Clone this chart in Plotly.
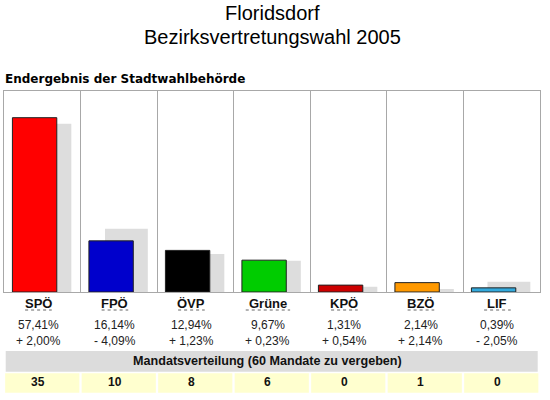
import plotly.graph_objects as go

# Bezirksvertretungswahl 2005, Floridsdorf
parties = ["SPÖ", "FPÖ", "ÖVP", "Grüne", "KPÖ", "BZÖ", "LIF"]
result_2005 = [57.41, 16.14, 12.94, 9.67, 1.31, 2.14, 0.39]
change = [2.00, -4.09, 1.23, 0.23, 0.54, 2.14, -2.05]
result_prev = [55.41, 20.23, 11.71, 9.44, 0.77, 0.0, 2.44]
seats = [35, 10, 8, 6, 0, 1, 0]
party_colors = ["#ff0000", "#0000cc", "#000000", "#00cc00", "#cc0000", "#ff9900", "#33aadd"]

BASE = -1.0  # bars start a little below zero, like in the original
FONT = "Liberation Sans, Arial, sans-serif"


def fmt_pct(v):
    return f"{v:.2f}".replace(".", ",") + "%"


def fmt_change(v):
    sign = "+" if v >= 0 else "-"
    return f"{sign} {abs(v):.2f}".replace(".", ",") + "%"


def py(px):
    # pixel row from the top -> paper coordinate
    return 1 - px / 400


fig = go.Figure()

# previous election (grey shadow bars)
fig.add_trace(go.Bar(
    x=parties,
    y=[v - BASE for v in result_prev],
    base=BASE,
    offset=-0.18,
    width=0.56,
    marker=dict(color="#dddddd", line=dict(width=0)),
    hoverinfo="skip",
))

# current result
fig.add_trace(go.Bar(
    x=parties,
    y=[v - BASE for v in result_2005],
    base=BASE,
    offset=-0.39,
    width=0.58,
    marker=dict(color=party_colors, line=dict(color="#222222", width=1)),
    hoverinfo="skip",
))

annotations = []
shapes = []


def label(text, x, y, xref="x", size=12, color="#222222", xanchor="center", family=FONT):
    annotations.append(dict(text=text, x=x, y=y, xref=xref, yref="paper", showarrow=False,
                            xanchor=xanchor, yanchor="middle",
                            font=dict(family=family, size=size, color=color)))


# titles
label("Floridsdorf", 0.495, py(13), xref="paper", size=20, color="#000000")
label("Bezirksvertretungswahl 2005", 0.495, py(37), xref="paper", size=20, color="#000000")
label("<b>Endergebnis der Stadtwahlbehörde</b>", 0.006, py(79), xref="paper", size=12,
      color="#000000", xanchor="left", family="DejaVu Sans, Verdana, sans-serif")

for i, p in enumerate(parties):
    label(f"<b>{p}</b>", i - 0.05, py(303), size=13, color="#111111")
    half = len(p) * 0.058
    shapes.append(dict(type="line", xref="x", yref="paper", x0=i - 0.05 - half, x1=i - 0.05 + half,
                       y0=py(310), y1=py(310),
                       line=dict(color="#666666", width=1, dash="dot")))
    label(fmt_pct(result_2005[i]), i - 0.05, py(324.5))
    label(fmt_change(change[i]), i - 0.05, py(341))
    # seat cells
    shapes.append(dict(type="rect", xref="x", yref="paper", x0=i - 0.485, x1=i + 0.485,
                       y0=py(392.7), y1=py(373.3),
                       fillcolor="#ffffcf", line=dict(width=0), layer="below"))
    label(f"<b>{seats[i]}</b>", i - 0.05, py(382), color="#111111")

# grey band with the seat header
shapes.append(dict(type="rect", xref="paper", yref="paper", x0=5.7 / 550, x1=537.7 / 550,
                   y0=py(371.7), y1=py(351),
                   fillcolor="#dcdcdc", line=dict(width=0), layer="below"))
label("<b>Mandatsverteilung (60 Mandate zu vergeben)</b>", 0.487, py(360.5), xref="paper",
      size=12.6, color="#111111")

fig.update_layout(
    width=550,
    height=400,
    margin=dict(l=0, r=0, t=0, b=0),
    paper_bgcolor="white",
    plot_bgcolor="white",
    barmode="overlay",
    showlegend=False,
    xaxis=dict(
        domain=[4 / 550, 539.5 / 550],
        range=[-0.5, 6.5],
        type="category",
        showticklabels=False,
        ticks="",
        tickson="boundaries",
        showgrid=True,
        gridcolor="#a8a8a8",
        gridwidth=1,
        showline=True,
        mirror=True,
        linecolor="#a8a8a8",
        linewidth=1,
        zeroline=False,
        fixedrange=True,
    ),
    yaxis=dict(
        domain=[py(292), py(91)],
        range=[BASE, 66.35],
        showticklabels=False,
        showgrid=False,
        zeroline=False,
        showline=True,
        mirror=True,
        linecolor="#a8a8a8",
        linewidth=1,
        fixedrange=True,
    ),
    annotations=annotations,
    shapes=shapes,
)

# drop the default 8px page margin so the figure sits at the window corner
fig.write_html("out.html", config={"displayModeBar": False},
               post_script="document.body.style.margin='0';")
